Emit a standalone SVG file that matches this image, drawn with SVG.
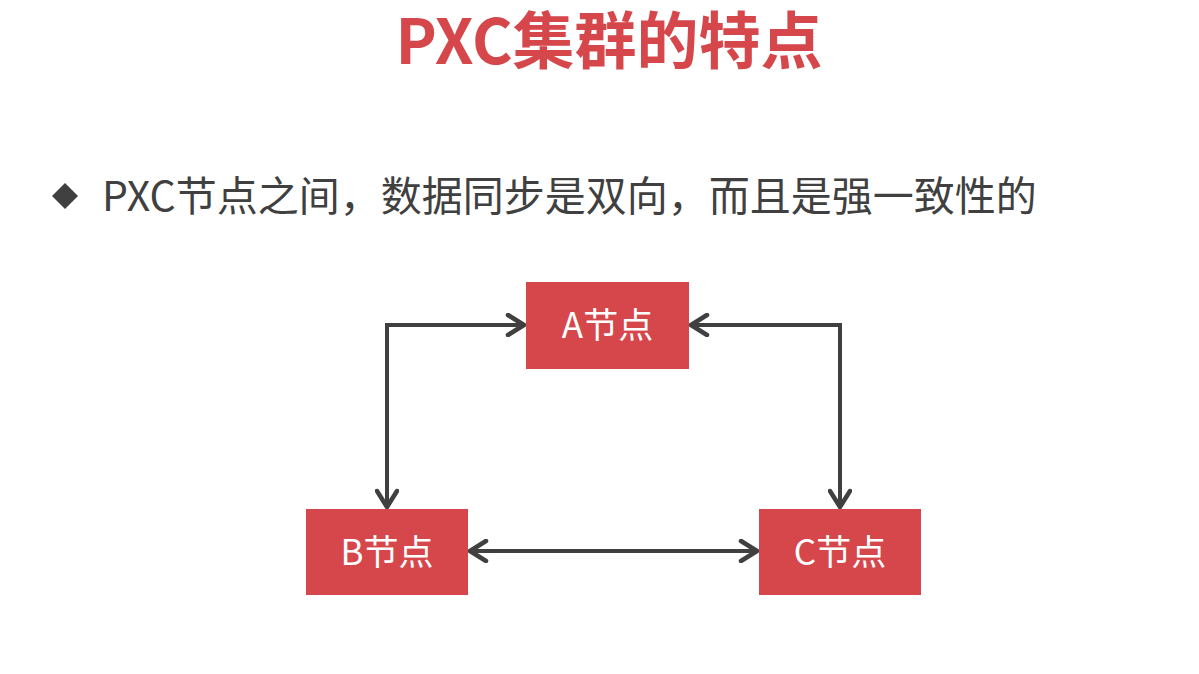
<svg xmlns="http://www.w3.org/2000/svg" width="1199" height="674" viewBox="0 0 1199 674">
<defs>
<style>
.node rect{fill:#D6474C;}
.node text{fill:#FFFFFF;font-family:"Noto Sans CJK SC",sans-serif;font-size:35px;text-anchor:middle;}
.conn{fill:none;stroke:#404040;stroke-width:4;}
</style>
<marker id="arrL" viewBox="0 0 24 24" refX="21" refY="12" markerWidth="24" markerHeight="24" markerUnits="userSpaceOnUse" orient="auto-start-reverse">
<path d="M5,2 L21,12 L5,22" fill="none" stroke="#404040" stroke-width="4.5" stroke-linecap="round" stroke-linejoin="round"/>
</marker>
</defs>
<rect width="1199" height="674" fill="#FFFFFF"/>
<text x="609" y="64" fill="#D6474C" font-family="Noto Sans CJK SC, sans-serif" font-weight="bold" font-size="62" text-anchor="middle">PXC集群的特点</text>
<g id="bullet">
<polygon points="65,183 78,196 65,209 52,196" fill="#404040"/>
<text x="102" y="211" fill="#404040" font-family="Noto Sans CJK SC, sans-serif" font-size="41">PXC节点之间，数据同步是双向，而且是强一致性的</text>
</g>
<g id="connectors">
<path class="conn" d="M387,507 L387,325 L524,325" marker-start="url(#arrL)" marker-end="url(#arrL)"/>
<path class="conn" d="M840,507 L840,325 L691,325" marker-start="url(#arrL)" marker-end="url(#arrL)"/>
<path class="conn" d="M470,551 L757,551" marker-start="url(#arrL)" marker-end="url(#arrL)"/>
</g>
<g id="nodeA" class="node">
<rect x="526" y="282" width="163" height="87"/>
<text x="607.5" y="338">A节点</text>
</g>
<g id="nodeB" class="node">
<rect x="306" y="509" width="162" height="86"/>
<text x="387" y="565">B节点</text>
</g>
<g id="nodeC" class="node">
<rect x="759" y="509" width="162" height="86"/>
<text x="840" y="565">C节点</text>
</g>
</svg>
